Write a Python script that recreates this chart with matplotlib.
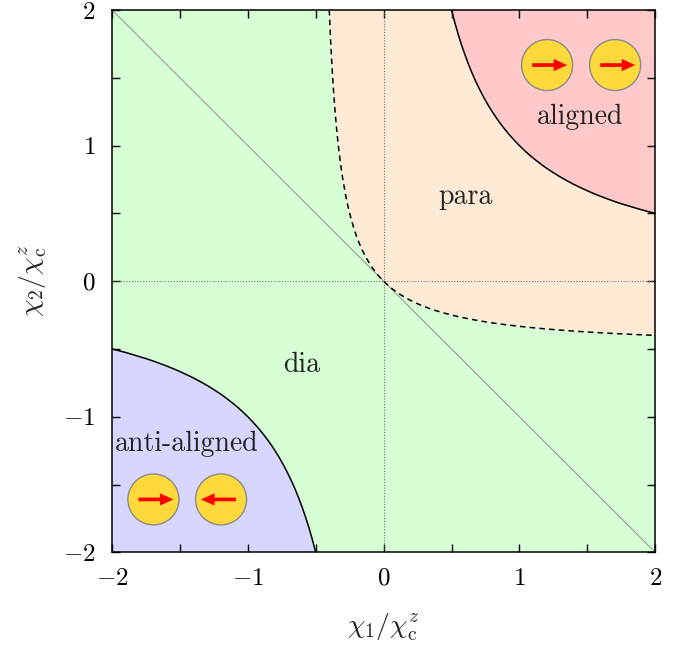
import matplotlib
matplotlib.use('Agg')
from matplotlib import pyplot as plt
from matplotlib.patches import Circle, FancyArrow

plt.rcParams['font.family'] = ['cmr10', 'DejaVu Sans']
plt.rcParams['mathtext.fontset'] = 'cm'
plt.rcParams['axes.formatter.use_mathtext'] = True
plt.rcParams['lines.scale_dashes'] = False

# boundaries
aligned_x = [0.5, 0.525, 0.55, 0.575, 0.6, 0.625, 0.65, 0.675, 0.7, 0.725, 0.75, 0.775, 0.8, 0.825, 0.85, 0.875, 0.9,
             0.925, 0.95, 0.975, 1.0, 1.025, 1.05, 1.075, 1.1, 1.125, 1.15, 1.175, 1.2, 1.25, 1.3, 1.35, 1.4, 1.45,
             1.5, 1.55, 1.6, 1.65, 1.7, 1.75, 1.8, 1.85, 1.9, 1.95, 2.0]
aligned_y = [2.0, 1.905, 1.818, 1.739, 1.667, 1.6, 1.538, 1.481, 1.429, 1.379, 1.333, 1.29, 1.25, 1.212, 1.176, 1.143, 1.111,
             1.081, 1.053, 1.026, 1.0, 0.976, 0.952, 0.93, 0.909, 0.889, 0.87, 0.851, 0.833, 0.8, 0.769, 0.741, 0.714, 0.69,
             0.667, 0.645, 0.625, 0.606, 0.588, 0.571, 0.556, 0.541, 0.526, 0.513, 0.5]

anti_x = [-0.5, -0.525, -0.55, -0.575, -0.6, -0.625, -0.65, -0.675, -0.7, -0.725, -0.75, -0.775, -0.8, -0.825, -0.85, -0.875, -0.9,
          -0.925, -0.95, -0.975, -1.0, -1.025, -1.05, -1.075, -1.1, -1.125, -1.15, -1.175, -1.2, -1.25, -1.3, -1.35, -1.4, -1.45,
          -1.5, -1.55, -1.6, -1.65, -1.7, -1.75, -1.8, -1.85, -1.9, -1.95, -2.0]
anti_y = [-2.0, -1.905, -1.818, -1.739, -1.667, -1.6, -1.538, -1.481, -1.429, -1.379, -1.333, -1.29, -1.25, -1.212, -1.176, -1.143, -1.111,
          -1.081, -1.053, -1.026, -1.0, -0.976, -0.952, -0.93, -0.909, -0.889, -0.87, -0.851, -0.833, -0.8, -0.769, -0.741, -0.714, -0.69,
          -0.667, -0.645, -0.625, -0.606, -0.588, -0.571, -0.556, -0.541, -0.526, -0.513, -0.5]

para_x = [-0.4, -0.395, -0.39, -0.385, -0.38, -0.37, -0.36, -0.35, -0.34, -0.33, -0.32, -0.31, -0.3, -0.28, -0.26, -0.24,
          -0.22, -0.2, -0.18, -0.16, -0.14, -0.12, -0.1, -0.08, -0.06, -0.04, -0.02, 0.0,
          0.021, 0.043, 0.068, 0.095, 0.125, 0.158, 0.194, 0.235, 0.281, 0.333, 0.393, 0.462, 0.542, 0.636, 0.75, 0.816,
          0.889, 0.971, 1.063, 1.167, 1.286, 1.423, 1.583, 1.674, 1.773, 1.881, 2.0]
para_y = [2.0, 1.881, 1.773, 1.674, 1.583, 1.423, 1.286, 1.167, 1.063, 0.971, 0.889, 0.816, 0.75, 0.636, 0.542, 0.462,
          0.393, 0.333, 0.281, 0.235, 0.194, 0.158, 0.125, 0.095, 0.068, 0.043, 0.021, 0.0,
          -0.02, -0.04, -0.06, -0.08, -0.1, -0.12, -0.14, -0.16, -0.18, -0.2, -0.22, -0.24, -0.26, -0.28, -0.3, -0.31,
          -0.32, -0.33, -0.34, -0.35, -0.36, -0.37, -0.38, -0.385, -0.39, -0.395, -0.4]

ticks = [-2, -1, 0, 1, 2]
tick_labels = [r'$-2$', r'$-1$', r'$0$', r'$1$', r'$2$']
minor_ticks = [-1.5, -0.5, 0.5, 1.5]

# spin markers: x, y of the sphere, arrow direction
spins = [(1.204, 1.594, 1), (1.705, 1.594, 1), (-1.695, -1.61, 1), (-1.197, -1.61, -1)]

fig = plt.figure(figsize=(6.94, 6.5), dpi=100)
ax = fig.add_axes([112 / 694, 1 - 552.3 / 650, 543.2 / 694, 542.3 / 650])
ax.set_xlim(-2, 2)
ax.set_ylim(-2, 2)
ax.set_facecolor('#d6ffd6')

ax.fill(para_x + aligned_x[::-1] + [-0.4], para_y + aligned_y[::-1] + [2.0], color='#ffead6', lw=0, zorder=1)
ax.fill(aligned_x + [2.0], aligned_y + [2.0], color='#ffc9c9', lw=0, zorder=1)
ax.fill(anti_x + [-2.0], anti_y + [-2.0], color='#d6d6ff', lw=0, zorder=1)

ax.plot([-2, 2], [2, -2], color='#909090', lw=0.7, zorder=2)
ax.axhline(0, color='#707070', lw=0.8, linestyle=(0, (0.8, 1.2)), zorder=2)
ax.axvline(0, color='#707070', lw=0.8, linestyle=(0, (0.8, 1.2)), zorder=2)

ax.plot(aligned_x, aligned_y, color='black', lw=1.1, zorder=3)
ax.plot(anti_x, anti_y, color='black', lw=1.1, zorder=3)
ax.plot(para_x, para_y, color='black', lw=1.1, dashes=(4.0, 3.0), zorder=3)

for x, y, d in spins:
    ax.add_patch(Circle((x, y), 0.188, fc='#ffd93b', ec='#8a8a8a', lw=1.0, zorder=4))
    ax.add_patch(FancyArrow(x - d * 0.11, y, d * 0.258, 0, width=0.027, head_width=0.09, head_length=0.1,
                            length_includes_head=True, color='#ff0000', lw=0, zorder=5))

ax.text(1.45, 1.212, 'aligned', fontsize=20, ha='center', va='center', color='#222222', zorder=6)
ax.text(0.6, 0.62, 'para', fontsize=20, ha='center', va='center', color='#222222', zorder=6)
ax.text(-0.6, -0.62, 'dia', fontsize=20, ha='center', va='center', color='#222222', zorder=6)
ax.text(-1.45, -1.2, 'anti-aligned', fontsize=20, ha='center', va='center', color='#222222', zorder=6)

ax.set_xticks(ticks)
ax.set_xticklabels(tick_labels)
ax.set_yticks(ticks)
ax.set_yticklabels(tick_labels)
ax.set_xticks(minor_ticks, minor=True)
ax.set_yticks(minor_ticks, minor=True)
ax.tick_params(which='both', direction='in', top=True, right=True, length=6, width=1.0, labelsize=18, zorder=7)
ax.tick_params(axis='x', which='major', pad=11)
ax.tick_params(axis='y', which='major', pad=12)
for s in ax.spines.values():
    s.set_linewidth(1.1)
    s.set_zorder(8)

fig.text(383 / 694, 1 - 627 / 650, r'$\chi_1/\chi_{\rm c}^z$', fontsize=20, ha='center', va='center', color='#222222')
fig.text(33 / 694, 1 - 281 / 650, r'$\chi_2/\chi_{\rm c}^z$', fontsize=20, rotation=90, ha='center', va='center', color='#222222')

fig.savefig('out.png', dpi=100)
